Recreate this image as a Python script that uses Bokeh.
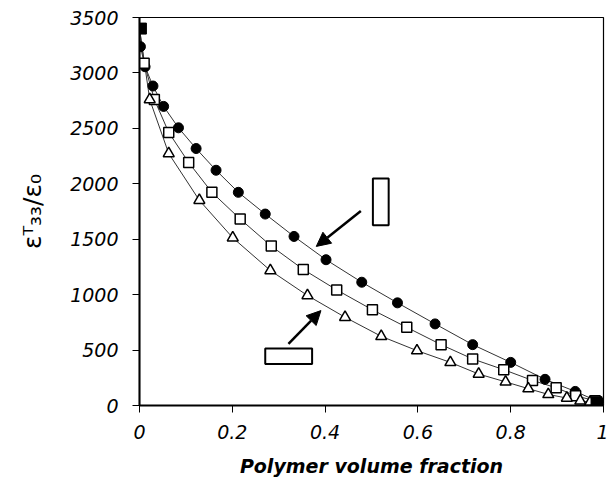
from bokeh.plotting import figure
from bokeh.embed import file_html
from bokeh.resources import INLINE
from bokeh.models import FixedTicker, Arrow, NormalHead, BoxAnnotation, Range1d
from bokeh.core.properties import value

# ---- data ----
circ_x = [0.002, 0.012, 0.029, 0.052, 0.084, 0.122, 0.165, 0.213, 0.271, 0.333,
          0.402, 0.479, 0.556, 0.637, 0.718, 0.800, 0.874, 0.939]
circ_y = [3237, 3056, 2882, 2698, 2505, 2318, 2122, 1923, 1727, 1525,
          1315, 1112, 926, 736, 549, 389, 236, 127]

sq_x = [0.010, 0.032, 0.063, 0.106, 0.156, 0.217, 0.284, 0.353, 0.425, 0.502,
        0.576, 0.650, 0.718, 0.785, 0.847, 0.898, 0.940, 0.982]
sq_y = [3087, 2761, 2463, 2192, 1923, 1682, 1438, 1227, 1043, 863,
        705, 549, 420, 323, 226, 160, 88, 42]

tri_x = [0.022, 0.063, 0.129, 0.201, 0.282, 0.362, 0.443, 0.521, 0.598, 0.670,
         0.731, 0.789, 0.838, 0.881, 0.921, 0.950, 0.971]
tri_y = [2760, 2273, 1851, 1513, 1218, 992, 796, 624, 495, 389,
         284, 213, 152, 100, 67, 42, 30]

end_x = [0.003, 0.985, 0.998]
end_y = [3400, 30, 15]

x_ticks = [0, 0.2, 0.4, 0.6, 0.8, 1.0]
x_tick_labels = ["0", "0.2", "0.4", "0.6", "0.8", "1"]
y_ticks = [0, 500, 1000, 1500, 2000, 2500, 3000, 3500]
y_tick_labels = ["0", "500", "1000", "1500", "2000", "2500", "3000", "3500"]

x_label = "Polymer volume fraction"
y_label = "\u03b5\u1d40\u2083\u2083/\u03b5\u2080"

# ---- figure ----
p = figure(width=608, height=483, output_backend="svg", toolbar_location=None,
           x_range=Range1d(0, 1), y_range=Range1d(0, 3500),
           min_border_left=139, min_border_right=5, min_border_top=17, min_border_bottom=78)
p.background_fill_color = "white"
p.border_fill_color = "white"
p.outline_line_color = "black"
p.outline_line_width = 1.2
p.xgrid.visible = False
p.ygrid.visible = False

tick_font = "DejaVu Sans"
for ax in (p.xaxis[0], p.yaxis[0]):
    ax.axis_line_color = "black"
    ax.axis_line_width = 2
    ax.major_tick_line_color = "black"
    ax.major_tick_in = 0
    ax.major_tick_out = 7
    ax.minor_tick_line_color = None
    ax.major_label_text_font = tick_font
    ax.major_label_text_font_style = "italic"
    ax.major_label_text_font_size = "19px"
    ax.major_label_text_color = "black"
    ax.axis_label_text_color = "black"

p.xaxis.ticker = FixedTicker(ticks=x_ticks)
p.yaxis.ticker = FixedTicker(ticks=y_ticks)
p.xaxis.major_label_overrides = {t: l for t, l in zip(x_ticks, x_tick_labels)}
p.yaxis.major_label_overrides = {t: l for t, l in zip(y_ticks, y_tick_labels)}
p.xaxis.major_label_standoff = 12
p.yaxis.major_label_standoff = 14

p.xaxis.axis_label = x_label
p.xaxis.axis_label_text_font = "DejaVu Sans"
p.xaxis.axis_label_text_font_style = "bold italic"
p.xaxis.axis_label_text_font_size = "19px"
p.xaxis.axis_label_standoff = 13

p.yaxis.axis_label = y_label
p.yaxis.axis_label_text_font = "DejaVu Sans"
p.yaxis.axis_label_text_font_style = "normal"
p.yaxis.axis_label_text_font_size = "25px"
p.yaxis.axis_label_standoff = 20

# curves (through the end members)
for xs, ys in ((circ_x, circ_y), (sq_x, sq_y), (tri_x, tri_y)):
    lx = [0.0] + xs + [1.0]
    ly = [end_y[0]] + ys + [end_y[-1]]
    p.line(lx, ly, line_color="#333333", line_width=1)

p.scatter(circ_x, circ_y, marker="circle", size=10, fill_color="black", line_color="black")
p.scatter(sq_x, sq_y, marker="square", size=10, fill_color="white", line_color="black", line_width=1.5)
p.scatter(tri_x, tri_y, marker="triangle", size=11, fill_color="white", line_color="black", line_width=1.5)
p.scatter(end_x, end_y, marker="square", size=11, fill_color="black", line_color="black")

# empty label boxes and arrows
p.add_layout(BoxAnnotation(left=0.503, right=0.537, bottom=1625, top=2047,
                           fill_color="white", fill_alpha=1, line_color="black",
                           line_alpha=1, line_width=2))
p.add_layout(BoxAnnotation(left=0.271, right=0.372, bottom=374, top=515,
                           fill_color="white", fill_alpha=1, line_color="black",
                           line_alpha=1, line_width=2))
p.add_layout(Arrow(x_start=0.477, y_start=1754, x_end=0.381, y_end=1435,
                   line_width=2.5, line_color="black",
                   end=NormalHead(size=14, fill_color="black", line_color="black")))
p.add_layout(Arrow(x_start=0.321, y_start=555, x_end=0.391, y_end=856,
                   line_width=2.5, line_color="black",
                   end=NormalHead(size=14, fill_color="black", line_color="black")))

open("out.html", "w").write(file_html(p, INLINE))
